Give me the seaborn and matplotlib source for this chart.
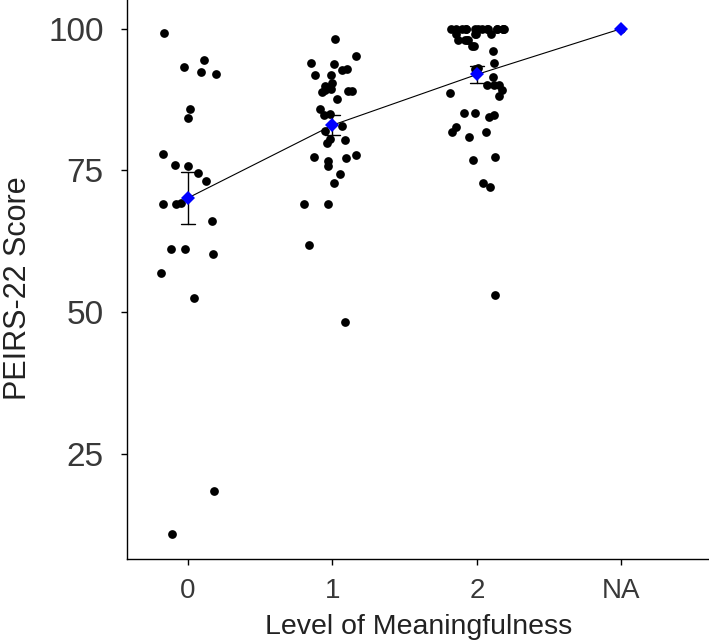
import numpy as np
import pandas as pd
import seaborn as sns
import matplotlib.pyplot as plt

# values
levels = ['0', '1', '2', 'NA']

score_0 = [99.3, 94.5, 93.3, 92.3, 92.0, 85.9, 84.2, 77.9, 75.9, 75.8, 74.6, 73.1,
           69.2, 69.0, 69.0, 66.0, 61.2, 61.2, 60.2, 56.9, 52.4, 18.4, 10.9]

score_1 = [98.1, 95.2, 94.0, 93.7, 92.9, 92.7, 91.9, 91.9, 90.4, 89.8, 89.4, 89.1,
           89.0, 89.0, 88.8, 87.6, 85.9, 84.9, 84.7, 82.8, 81.9, 80.5, 80.3, 79.8,
           77.8, 77.4, 77.1, 76.6, 75.8, 74.3, 72.8, 69.0, 69.0, 61.8, 48.2]

score_2 = [100, 100, 100, 100, 100, 100, 100, 100, 100, 100, 100, 100, 100, 100, 100,
           99, 99, 99, 99, 98, 98, 98, 98, 97, 97, 96,
           94.0, 93.1, 92.8, 91.5, 90.0, 90.0, 90.0, 89.1, 88.7, 88.1, 85.2, 85.2, 84.7,
           84.4, 82.6, 81.8, 81.8, 80.9, 77.3, 76.9, 72.8, 72.1, 53.0]

score_na = [100]

df = pd.DataFrame({
    'level': ['0'] * len(score_0) + ['1'] * len(score_1) + ['2'] * len(score_2) + ['NA'] * len(score_na),
    'score': score_0 + score_1 + score_2 + score_na,
})

sns.set_theme(style='ticks')
plt.rcParams['font.family'] = ['Liberation Sans', 'DejaVu Sans']

fig = plt.figure(figsize=(7.09, 6.44), dpi=100)
ax = fig.add_axes([0.1796, 0.132, 0.8204, 0.868])

np.random.seed(7)
sns.stripplot(data=df, x='level', y='score', order=levels, jitter=0.2,
              color='black', size=6.3, linewidth=0, zorder=2, ax=ax)
# mean +/- se, black line and error bars
sns.pointplot(data=df, x='level', y='score', order=levels, errorbar='se',
              color='black', markers='o', markersize=0, capsize=0.1,
              linewidth=0.8, err_kws={'linewidth': 1.0, 'zorder': 4}, zorder=4, ax=ax)
# blue diamonds for the means
sns.pointplot(data=df, x='level', y='score', order=levels, errorbar=None,
              color='blue', markers='D', linestyles='none', markersize=7,
              markeredgewidth=0, zorder=6, ax=ax)

ax.set_xlim(-0.42, 3.607)
ax.set_ylim(6.44, 105.06)
ax.set_yticks([25, 50, 75, 100])

sns.despine(ax=ax)
for s in ['left', 'bottom']:
    ax.spines[s].set_color('black')
    ax.spines[s].set_linewidth(1.0)

ax.tick_params(axis='both', colors='black', length=4, width=1.0, labelcolor='#383838')
ax.tick_params(axis='x', labelsize=20, pad=10)
ax.tick_params(axis='y', labelsize=24, pad=13)
ax.set_xlabel('Level of Meaningfulness', fontsize=20.5, color='#222222', labelpad=7)
ax.set_ylabel('PEIRS-22 Score', fontsize=22, color='#222222')
ax.yaxis.set_label_coords(-0.162, 0.485)

fig.savefig('out.png', dpi=100)
